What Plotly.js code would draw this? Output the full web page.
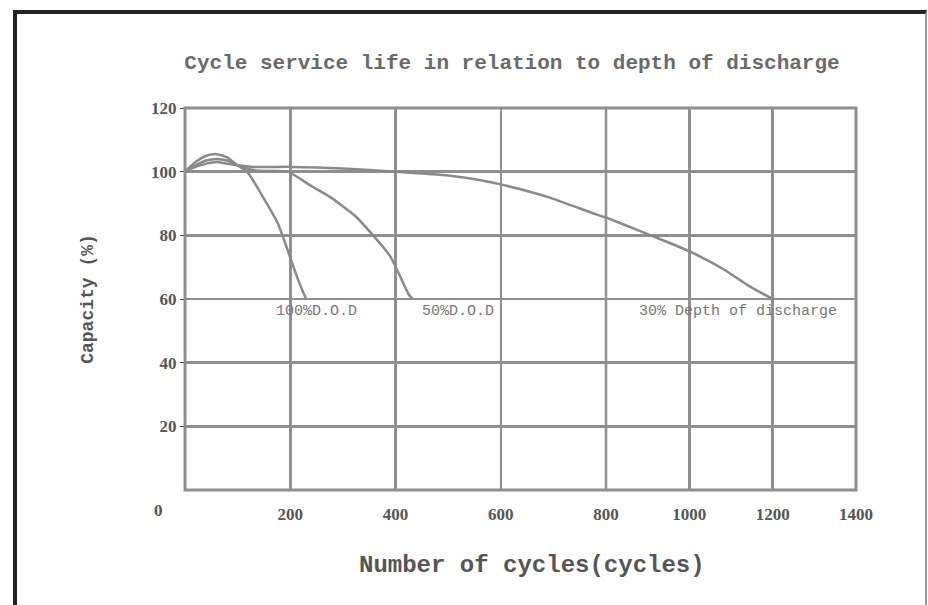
<!DOCTYPE html>
<html>
<head>
<meta charset="utf-8">
<script src="https://cdn.plot.ly/plotly-3.0.1.min.js"></script>
<style>
  html, body { margin: 0; padding: 0; background: #fff; }
  #chart { width: 928px; height: 605px; position: absolute; left: 0; top: 0; }
  #frame { position: absolute; left: 13px; top: 10px; width: 908px; height: 700px;
           border-top: 4px solid #222; border-left: 4px solid #222; border-right: 2px solid #999;
           pointer-events: none; }
</style>
</head>
<body>
<div id="chart"></div>
<div id="frame"></div>
<script>
// ---- data ----
const chartTitle = 'Cycle service life in relation to depth of discharge';
const xTitle = 'Number of cycles(cycles)';
const yTitle = 'Capacity (%)';

const cycles100 = [0, 20, 40, 60, 80, 100, 118, 150, 177, 200, 215, 230];
const cap100    = [100, 103, 105, 105.5, 104.5, 102, 100, 91.5, 83.5, 73, 66, 60];

const cycles50 = [0, 20, 40, 60, 80, 100, 130, 160, 195, 240, 276, 324, 352, 390, 425, 432];
const cap50    = [100, 102, 103.5, 104, 103.5, 102, 100.5, 100.2, 100, 95.5, 92, 86, 81, 73.4, 61.5, 60];

const cycles30 = [0, 20, 40, 60, 80, 100, 130, 200, 300, 400, 500, 562, 600, 690, 781, 800, 850, 913, 1000, 1080, 1147, 1200];
const cap30    = [100, 101.5, 102.5, 103, 102.5, 102, 101.5, 101.5, 101, 100, 98.8, 97.3, 96, 92, 86.6, 85.6, 83, 79.7, 75, 69.5, 63.8, 60];

const seriesLabels = ['100%D.O.D', '50%D.O.D', '30% Depth of discharge'];
const labelCycles  = [249, 519, 1117];
const labelCap     = [56.2, 56.2, 56.2];

const xTicksA = [200, 400, 600, 800];
const xTicksB = [1000, 1200, 1400];
const yTicks  = [20, 40, 60, 80, 100, 120];

// the reference axis is drawn with two linear stretches: 0-800 and 800-1400
const breakAt = 800;

// ---- build ----
const lineStyle = {color: '#8a8a8a', width: 2.5, shape: 'spline', smoothing: 0.6};
function part(xs, ys, keep) {
  const px = [], py = [];
  xs.forEach((v, i) => { if (keep(v)) { px.push(v); py.push(ys[i]); } });
  return {x: px, y: py};
}
const p30a = part(cycles30, cap30, v => v <= breakAt);
const p30b = part(cycles30, cap30, v => v >= breakAt);

const traces = [
  {x: cycles100, y: cap100, mode: 'lines', line: lineStyle, xaxis: 'x', yaxis: 'y', name: seriesLabels[0]},
  {x: cycles50, y: cap50, mode: 'lines', line: lineStyle, xaxis: 'x', yaxis: 'y', name: seriesLabels[1]},
  {x: p30a.x, y: p30a.y, mode: 'lines', line: lineStyle, xaxis: 'x', yaxis: 'y', name: seriesLabels[2]},
  {x: p30b.x, y: p30b.y, mode: 'lines', line: lineStyle, xaxis: 'x2', yaxis: 'y', name: seriesLabels[2]}
];

const plotL = 185, plotR = 856, plotT = 108, plotB = 490;
const W = 928, H = 605;
const split = (606 - plotL) / (plotR - plotL);
const pw = plotR - plotL, ph = plotB - plotT;
const px2paperX = p => (p - plotL) / pw;
const px2paperY = p => (plotB - p) / ph;

const tickFont = {family: 'Liberation Serif', size: 17, color: '#555', weight: 'bold'};
const gridC = '#8f8f8f';

const annos = seriesLabels.map((t, i) => ({
  text: t, x: labelCycles[i], y: labelCap[i], xref: i < 2 ? 'x' : 'x2', yref: 'y',
  xanchor: 'center', yanchor: 'middle',
  showarrow: false, font: {family: 'Liberation Mono', size: 15, color: '#777'}
}));
annos.push({text: '0', x: px2paperX(158), y: px2paperY(510), xref: 'paper', yref: 'paper',
  xanchor: 'center', yanchor: 'middle', showarrow: false, font: tickFont});
annos.push({text: xTitle, x: px2paperX(532), y: px2paperY(565), xref: 'paper', yref: 'paper',
  xanchor: 'center', yanchor: 'middle',
  showarrow: false, font: {family: 'Liberation Mono', size: 24, color: '#555', weight: 'bold'}});

const layout = {
  width: W, height: H,
  margin: {l: plotL, r: W - plotR, t: plotT, b: H - plotB, pad: 0},
  paper_bgcolor: 'rgba(0,0,0,0)', plot_bgcolor: '#fff',
  showlegend: false,
  title: {text: chartTitle, xref: 'paper', x: px2paperX(512), xanchor: 'center',
          yref: 'container', y: 1 - 62 / H, yanchor: 'middle',
          font: {family: 'Liberation Mono', size: 21, color: '#6a6a6a', weight: 'bold'}},
  xaxis: {domain: [0, split], range: [0, breakAt], tickmode: 'array', tickvals: xTicksA,
          showgrid: true, gridcolor: gridC, gridwidth: 2.5, zeroline: false, showline: false,
          ticks: '', tickfont: tickFont, ticklabelstandoff: 12, anchor: 'y', fixedrange: true},
  xaxis2: {domain: [split, 1], range: [breakAt, 1400], tickmode: 'array', tickvals: xTicksB,
          showgrid: true, gridcolor: gridC, gridwidth: 2.5, zeroline: false, showline: false,
          ticks: '', tickfont: tickFont, ticklabelstandoff: 12, anchor: 'y', fixedrange: true},
  yaxis: {range: [0, 120], tickmode: 'array', tickvals: yTicks,
          showgrid: true, gridcolor: gridC, gridwidth: 2.5, zeroline: false, showline: false,
          ticks: 'outside', ticklen: 4, tickcolor: '#444', tickfont: tickFont,
          title: {text: yTitle, standoff: 52, font: {family: 'Liberation Mono', size: 18, color: '#555', weight: 'bold'}},
          automargin: false, fixedrange: true},
  shapes: [
    {type: 'rect', xref: 'paper', yref: 'paper', x0: 0, x1: 1, y0: 0, y1: 1,
     line: {color: '#8f8f8f', width: 3}, layer: 'above'},
    {type: 'line', xref: 'paper', yref: 'paper', x0: split, x1: split, y0: 0, y1: 1,
     line: {color: '#8f8f8f', width: 2.5}, layer: 'below'}
  ],
  annotations: annos
};

Plotly.newPlot('chart', traces, layout, {staticPlot: true, displayModeBar: false});
</script>
</body>
</html>
